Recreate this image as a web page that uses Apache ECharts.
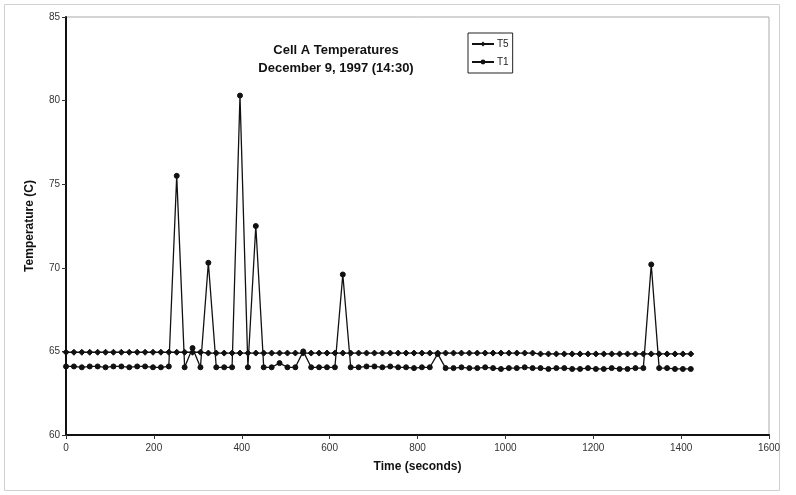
<!DOCTYPE html>
<html>
<head>
<meta charset="utf-8">
<script src="https://cdn.jsdelivr.net/npm/echarts@6/dist/echarts.min.js"></script>
<style>html,body{margin:0;padding:0;background:#fff}#c{width:796px;height:495px}</style>
</head>
<body>
<div id="c"></div>
<script>
var times = [0,18,36,54,72,90,108,126,144,162,180,198,216,234,252,270,288,306,324,342,360,378,396,414,432,450,468,486,504,522,540,558,576,594,612,630,648,666,684,702,720,738,756,774,792,810,828,846,864,882,900,918,936,954,972,990,1008,1026,1044,1062,1080,1098,1116,1134,1152,1170,1188,1206,1224,1242,1260,1278,1296,1314,1332,1350,1368,1386,1404,1422];
var t5 = [64.95,64.95,64.95,64.95,64.95,64.95,64.95,64.95,64.95,64.95,64.95,64.95,64.95,64.95,64.95,64.95,64.95,64.95,64.9,64.9,64.9,64.9,64.9,64.9,64.9,64.9,64.9,64.9,64.9,64.9,64.9,64.9,64.9,64.9,64.9,64.9,64.9,64.9,64.9,64.9,64.9,64.9,64.9,64.9,64.9,64.9,64.9,64.9,64.9,64.9,64.9,64.9,64.9,64.9,64.9,64.9,64.9,64.9,64.9,64.9,64.85,64.85,64.85,64.85,64.85,64.85,64.85,64.85,64.85,64.85,64.85,64.85,64.85,64.85,64.85,64.85,64.85,64.85,64.85,64.85];
var t1 = [64.1,64.1,64.05,64.1,64.1,64.05,64.1,64.1,64.05,64.1,64.1,64.05,64.05,64.1,
  75.5,64.05,65.2,64.05,70.3,64.05,64.05,64.05,80.3,64.05,72.5,64.05,64.05,64.3,64.05,64.05,65.0,64.05,64.05,64.05,64.05,69.6,64.05,
  64.05,64.1,64.1,64.05,64.1,64.05,64.05,64.0,64.05,64.05,
  64.85,
  64.0,64.0,64.05,64.0,64.0,64.05,64.0,63.95,64.0,64.0,64.05,64.0,64.0,63.95,64.0,64.0,63.95,63.95,64.0,63.95,63.95,64.0,63.95,63.95,64.0,64.0,
  70.2,
  64.0,64.0,63.95,63.95,63.95];
var xTicks = [0,200,400,600,800,1000,1200,1400,1600];
var yTicks = [60,65,70,75,80,85];

function pairs(xs, ys){ return xs.map(function(x,i){ return [x, ys[i]]; }); }

var chart = echarts.init(document.getElementById('c'));
var font = 'Liberation Sans, Arial, sans-serif';
chart.setOption({
  animation: false,
  backgroundColor: '#fff',
  textStyle: { fontFamily: font },
  graphic: [{
    type: 'rect', shape: { x: 4.5, y: 4.5, width: 775, height: 486 },
    style: { fill: 'none', stroke: '#d0d0d0', lineWidth: 1 }, silent: true, z: -1
  }],
  title: {
    text: 'Cell A Temperatures\nDecember 9, 1997 (14:30)',
    left: 331, top: 36, textAlign: 'center',
    textStyle: { fontFamily: font, fontSize: 13, fontWeight: 'bold', color: '#111', lineHeight: 18 }
  },
  legend: {
    orient: 'vertical', left: 468, top: 33,
    data: ['T5', 'T1'],
    itemWidth: 22, itemHeight: 6, itemGap: 8,
    padding: [6, 4, 6, 3],
    borderColor: '#222', borderWidth: 1, backgroundColor: '#fff',
    textStyle: { fontFamily: font, fontSize: 10, color: '#222', padding: [0, 0, 0, -2] }
  },
  grid: { left: 66, right: 27, top: 17, bottom: 60, show: true, borderColor: '#aaa', borderWidth: 1 },
  xAxis: {
    type: 'value', min: xTicks[0], max: xTicks[xTicks.length-1], interval: 200,
    name: 'Time (seconds)', nameLocation: 'middle', nameGap: 26,
    nameTextStyle: { fontFamily: font, fontSize: 12, fontWeight: 'bold', color: '#111' },
    axisLine: { lineStyle: { color: '#111', width: 2 } },
    axisTick: { show: true, length: 4, lineStyle: { color: '#333' } },
    axisLabel: { fontFamily: font, fontSize: 10, color: '#333', margin: 8, formatter: function(v){ return String(v); } },
    splitLine: { show: false }
  },
  yAxis: {
    type: 'value', min: yTicks[0], max: yTicks[yTicks.length-1], interval: 5,
    name: 'Temperature (C)', nameLocation: 'middle', nameGap: 30,
    nameTextStyle: { fontFamily: font, fontSize: 12, fontWeight: 'bold', color: '#111' },
    axisLine: { show: true, lineStyle: { color: '#111', width: 2 } },
    axisTick: { show: true, length: 4, lineStyle: { color: '#333' } },
    axisLabel: { fontFamily: font, fontSize: 10, color: '#333', margin: 6 },
    splitLine: { show: false }
  },
  series: [
    {
      name: 'T5', type: 'line', data: pairs(times, t5),
      symbol: 'diamond', symbolSize: 6, showAllSymbol: true,
      lineStyle: { color: '#111', width: 1.3 },
      itemStyle: { color: '#111', borderColor: '#111' }
    },
    {
      name: 'T1', type: 'line', data: pairs(times, t1),
      symbol: 'circle', symbolSize: 5, showAllSymbol: true,
      lineStyle: { color: '#111', width: 1.3 },
      itemStyle: { color: '#111', borderColor: '#111' }
    }
  ]
});
</script>
</body>
</html>
